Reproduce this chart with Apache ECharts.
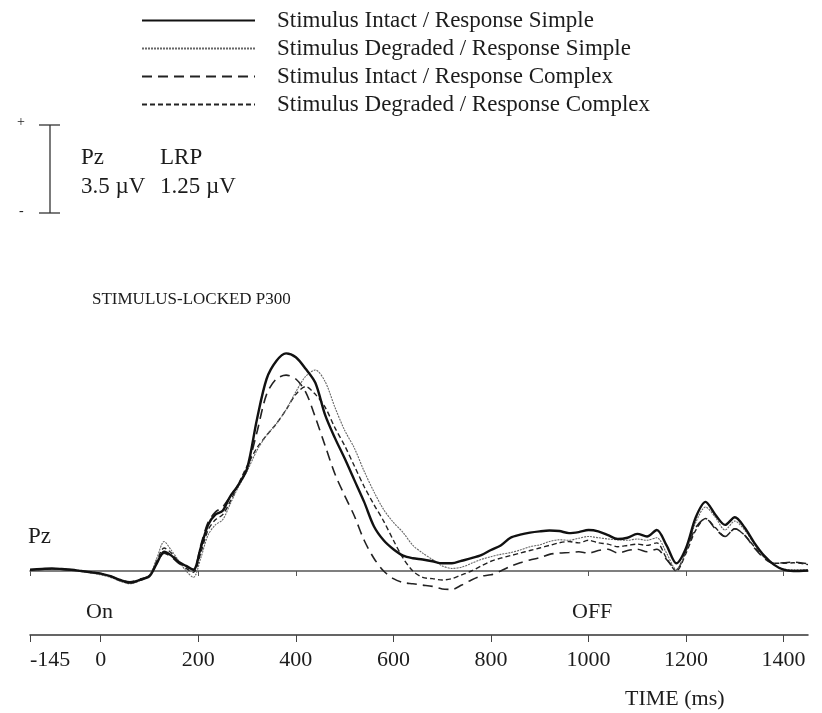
<!DOCTYPE html>
<html>
<head>
<meta charset="utf-8">
<script src="https://cdn.jsdelivr.net/npm/echarts@6/dist/echarts.min.js"></script>
<style>
html,body{margin:0;padding:0;background:#fff;}
#chart{width:822px;height:713px;}
</style>
</head>
<body>
<div id="chart"></div>
<script>
// Time points (ms)
var timesMs = [-145,-120,-100,-80,-60,-40,-20,0,20,40,60,80,100,115,130,145,160,175,190,205,220,235,250,265,280,300,320,340,360,380,400,420,440,460,480,500,520,540,560,580,600,620,640,660,680,700,720,740,760,780,800,820,840,860,880,900,920,940,960,980,1000,1020,1040,1060,1080,1100,1120,1140,1160,1180,1200,1220,1240,1260,1280,1300,1320,1340,1360,1380,1400,1420,1450];

// Stimulus Intact / Response Simple (µV)
var intactSimple = [0.05,0.08,0.1,0.08,0.05,0.0,-0.05,-0.1,-0.2,-0.35,-0.45,-0.35,-0.2,0.3,0.75,0.6,0.35,0.2,0.05,0.9,1.8,2.2,2.35,2.9,3.3,4.0,5.9,7.5,8.2,8.5,8.35,7.9,7.35,6.1,5.2,4.4,3.55,2.7,1.75,1.2,0.85,0.6,0.5,0.45,0.38,0.3,0.3,0.4,0.5,0.62,0.82,1.0,1.3,1.42,1.5,1.55,1.58,1.56,1.48,1.52,1.6,1.55,1.4,1.25,1.3,1.45,1.35,1.6,1.0,0.3,0.9,2.1,2.7,2.2,1.8,2.1,1.7,1.1,0.6,0.25,0.05,0.0,0.02];

// Stimulus Degraded / Response Simple (µV)
var degradedSimple = [0.03,0.06,0.08,0.06,0.03,-0.02,-0.08,-0.15,-0.25,-0.4,-0.5,-0.38,-0.15,0.5,1.15,0.8,0.4,0.0,-0.25,0.5,1.4,1.8,2.0,2.6,3.2,3.9,4.7,5.3,5.75,6.3,7.0,7.6,7.85,7.4,6.4,5.5,4.8,3.9,3.1,2.4,1.9,1.5,1.0,0.7,0.45,0.2,0.1,0.15,0.3,0.45,0.56,0.65,0.72,0.82,0.95,1.02,1.15,1.22,1.2,1.28,1.35,1.3,1.25,1.22,1.2,1.25,1.2,1.3,0.7,0.05,0.8,1.9,2.5,2.1,1.6,1.95,1.6,1.05,0.55,0.25,0.08,0.05,0.05];

// Stimulus Intact / Response Complex (µV)
var intactComplex = [0.05,0.07,0.09,0.07,0.05,0.0,-0.05,-0.1,-0.2,-0.35,-0.42,-0.32,-0.18,0.3,0.7,0.55,0.3,0.15,0.05,1.0,1.9,2.3,2.5,2.9,3.3,4.0,5.4,6.9,7.5,7.65,7.5,7.0,6.0,4.9,3.8,2.95,2.15,1.2,0.5,0.0,-0.3,-0.45,-0.5,-0.55,-0.6,-0.7,-0.72,-0.55,-0.35,-0.2,-0.15,0.0,0.18,0.32,0.43,0.52,0.65,0.7,0.72,0.75,0.7,0.8,0.85,0.7,0.8,0.85,0.75,0.85,0.45,0.05,0.8,1.7,2.05,1.65,1.35,1.65,1.4,0.9,0.5,0.3,0.32,0.35,0.28];

// Stimulus Degraded / Response Complex (µV)
var degradedComplex = [0.04,0.07,0.09,0.07,0.04,-0.01,-0.06,-0.12,-0.22,-0.38,-0.48,-0.36,-0.18,0.4,0.9,0.7,0.35,0.1,-0.05,0.7,1.6,2.0,2.2,2.7,3.3,4.1,4.8,5.3,5.75,6.3,6.9,7.2,6.9,6.4,5.6,4.9,4.1,3.3,2.6,1.95,1.2,0.5,0.0,-0.25,-0.3,-0.35,-0.3,-0.15,0.0,0.2,0.38,0.5,0.6,0.7,0.8,0.9,1.0,1.1,1.15,1.1,1.2,1.1,1.05,0.95,1.0,1.05,1.0,1.1,0.5,0.0,0.7,1.6,2.05,1.7,1.35,1.65,1.4,0.95,0.55,0.3,0.3,0.32,0.25];

var seriesNames = [
  'Stimulus Intact / Response Simple',
  'Stimulus Degraded / Response Simple',
  'Stimulus Intact / Response Complex',
  'Stimulus Degraded / Response Complex'
];
var tickValues = [-145,0,200,400,600,800,1000,1200,1400];
var baselineTicks = [-145,200,400,1000,1200,1400];

function pairs(vals){ return timesMs.map(function(t,i){ return [t, vals[i]]; }); }

var FONT = '"Liberation Serif", "DejaVu Serif", serif';
var INK = '#1c1c1c';

var chart = echarts.init(document.getElementById('chart'), null, {renderer:'canvas'});

var styles = [
  {color:'#111', width:2.4, type:'solid'},
  {color:'#666', width:1.1, type:[2,1]},
  {color:'#222', width:1.6, type:[10,6]},
  {color:'#222', width:1.4, type:[5,3]}
];
var datasets = [intactSimple, degradedSimple, intactComplex, degradedComplex];

var option = {
  backgroundColor:'#fff',
  animation:false,
  title:{
    text:'STIMULUS-LOCKED P300',
    left:87, top:286,
    textStyle:{fontFamily:FONT, fontSize:17, fontWeight:'normal', color:INK}
  },
  legend:{
    orient:'vertical',
    left:136, top:4,
    itemWidth:113, itemHeight:12,
    itemGap:5,
    data:seriesNames,
    itemStyle:{opacity:0},
    textStyle:{fontFamily:FONT, fontSize:23, color:INK, padding:[0,0,0,17]}
  },
  grid:{left:30, top:315, width:778, height:320},
  xAxis:[{
    type:'value', min:-145, max:1450, position:'bottom',
    axisLine:{onZero:false, lineStyle:{color:'#333', width:1.5}},
    axisTick:{show:true, length:7, customValues:tickValues, lineStyle:{color:'#444', width:1}},
    axisLabel:{customValues:tickValues, margin:14, fontFamily:FONT, fontSize:22, color:INK,
      alignMinLabel:'left',
      formatter:function(v){ return String(v); }},
    splitLine:{show:false}
  },{
    type:'value', min:-145, max:1450, position:'bottom',
    axisLine:{onZero:true, lineStyle:{color:'#555', width:1.5}},
    axisTick:{show:true, length:5, customValues:baselineTicks, lineStyle:{color:'#555'}},
    axisLabel:{show:false},
    splitLine:{show:false}
  }],
  yAxis:{
    type:'value', min:-2.5, max:10, show:true,
    axisLine:{show:false}, axisTick:{show:false}, axisLabel:{show:false}, splitLine:{show:false}
  },
  series: datasets.map(function(d,i){
    return {
      name:seriesNames[i], type:'line', xAxisIndex:0, yAxisIndex:0,
      data:pairs(d), showSymbol:false, symbol:'none', smooth:0.3,
      lineStyle:styles[i], itemStyle:{color:styles[i].color},
      z: 4-i
    };
  }),
  graphic:[
    // scale bar
    {type:'line', shape:{x1:50, y1:125, x2:50, y2:213}, style:{stroke:'#333', lineWidth:1.3}},
    {type:'line', shape:{x1:39, y1:125, x2:60, y2:125}, style:{stroke:'#333', lineWidth:1.3}},
    {type:'line', shape:{x1:39, y1:213, x2:60, y2:213}, style:{stroke:'#333', lineWidth:1.3}},
    {type:'text', left:17, top:115, style:{text:'+', font:'14px '+FONT, fill:INK}},
    {type:'text', left:19, top:204, style:{text:'-', font:'14px '+FONT, fill:INK}},
    {type:'text', left:81, top:146, style:{text:'Pz', font:'23px '+FONT, fill:INK}},
    {type:'text', left:160, top:146, style:{text:'LRP', font:'23px '+FONT, fill:INK}},
    {type:'text', left:81, top:175, style:{text:'3.5 \u00b5V', font:'23px '+FONT, fill:INK}},
    {type:'text', left:160, top:175, style:{text:'1.25 \u00b5V', font:'23px '+FONT, fill:INK}},
    // labels on plot
    {type:'text', left:28, top:525, style:{text:'Pz', font:'23px '+FONT, fill:INK}},
    {type:'text', left:86, top:601, style:{text:'On', font:'22px '+FONT, fill:INK}},
    {type:'text', left:572, top:601, style:{text:'OFF', font:'22px '+FONT, fill:INK}},
    {type:'text', left:625, top:688, style:{text:'TIME (ms)', font:'22px '+FONT, fill:INK}}
  ]
};
chart.setOption(option);
</script>
</body>
</html>
